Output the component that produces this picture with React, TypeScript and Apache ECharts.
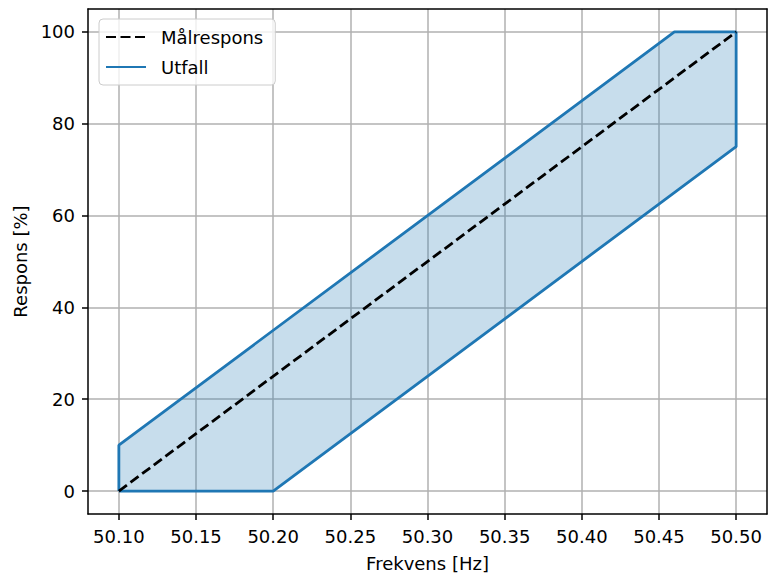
import React, { useEffect, useRef } from "react";
import * as echarts from "echarts";

// Data
const targetX = [50.1, 50.5];
const targetY = [0, 100];
// Outline of the "Utfall" band (closed polygon)
const bandX = [50.1, 50.1, 50.46, 50.5, 50.5, 50.2, 50.1];
const bandY = [0, 10, 100, 100, 75, 0, 0];
const xTicks = [50.1, 50.15, 50.2, 50.25, 50.3, 50.35, 50.4, 50.45, 50.5];
const yTicks = [0, 20, 40, 60, 80, 100];

const FONT = "DejaVu Sans";
const FS = 18;

export default function App() {
  const ref = useRef<HTMLDivElement>(null);
  useEffect(() => {
    document.body.style.margin = "0";
    const chart = echarts.init(ref.current!, null, { renderer: "svg" });
    const targetData = targetX.map((x, i) => [x, targetY[i]]);
    const bandData = bandX.map((x, i) => [x, bandY[i]]);
    const axisCommon = {
      type: "value" as const,
      axisLine: { show: true, onZero: false, lineStyle: { color: "#000", width: 1.5 } },
    };
    chart.setOption({
      animation: false,
      backgroundColor: "#fff",
      textStyle: { fontFamily: FONT },
      grid: { left: 88, right: 1, top: 9, bottom: 62, containLabel: false },
      legend: {
        orient: "vertical",
        left: 99,
        top: 19,
        data: ["Målrespons", "Utfall"],
        itemWidth: 40,
        itemHeight: 14,
        itemGap: 12,
        padding: [9, 12, 9, 6],
        itemStyle: { opacity: 0 },
        backgroundColor: "rgba(255,255,255,0.8)",
        borderColor: "#cccccc",
        borderWidth: 1,
        borderRadius: 4,
        textStyle: { fontFamily: FONT, fontSize: FS, color: "#000", padding: [0, 0, 0, 10] },
      },
      xAxis: [
        {
          ...axisCommon,
          position: "bottom",
          min: 50.08,
          max: 50.52,
          splitNumber: 8,
          name: "Frekvens [Hz]",
          nameLocation: "middle",
          nameGap: 40,
          nameTextStyle: { fontFamily: FONT, fontSize: FS, color: "#000" },
          axisTick: { show: true, length: 6, customValues: xTicks, lineStyle: { color: "#000", width: 1.5 } },
          axisLabel: {
            customValues: xTicks,
            margin: 13,
            fontFamily: FONT,
            fontSize: FS,
            color: "#000",
            formatter: (v: number) => v.toFixed(2),
          },
          splitLine: { show: true, lineStyle: { color: "#b0b0b0", width: 1.5 } },
        },
        {
          ...axisCommon,
          position: "top",
          min: 50.08,
          max: 50.52,
          axisTick: { show: false },
          axisLabel: { show: false },
          splitLine: { show: false },
        },
      ],
      yAxis: [
        {
          ...axisCommon,
          position: "left",
          min: -5,
          max: 105,
          splitNumber: 5,
          name: "Respons [%]",
          nameLocation: "middle",
          nameGap: 58,
          nameTextStyle: { fontFamily: FONT, fontSize: FS, color: "#000" },
          axisTick: { show: true, length: 6, customValues: yTicks, lineStyle: { color: "#000", width: 1.5 } },
          axisLabel: {
            customValues: yTicks,
            margin: 13,
            fontFamily: FONT,
            fontSize: FS,
            color: "#000",
          },
          splitLine: { show: true, lineStyle: { color: "#b0b0b0", width: 1.5 } },
        },
        {
          ...axisCommon,
          position: "right",
          min: -5,
          max: 105,
          axisTick: { show: false },
          axisLabel: { show: false },
          splitLine: { show: false },
        },
      ],
      series: [
        {
          name: "Utfall-fyll",
          type: "custom",
          xAxisIndex: 0,
          yAxisIndex: 0,
          silent: true,
          z: 1,
          data: bandData,
          renderItem: (params: any, api: any) => {
            if (params.dataIndex !== 0) return null;
            const pts = bandData.map((p) => api.coord(p));
            return {
              type: "polygon",
              shape: { points: pts },
              style: { fill: "rgba(31,119,180,0.25)", stroke: "none" },
            };
          },
        },
        {
          name: "Utfall",
          type: "line",
          xAxisIndex: 0,
          yAxisIndex: 0,
          data: bandData,
          symbol: "none",
          z: 2,
          lineStyle: { color: "#1f77b4", width: 2.8 },
          itemStyle: { color: "#1f77b4" },
        },
        {
          name: "Målrespons",
          type: "line",
          xAxisIndex: 0,
          yAxisIndex: 0,
          data: targetData,
          symbol: "none",
          z: 3,
          lineStyle: { color: "#000", width: 2.8, type: [10, 4.5] },
          itemStyle: { color: "#000" },
        },
      ],
    });
    return () => chart.dispose();
  }, []);
  return <div ref={ref} style={{ width: 768, height: 577 }} />;
}
